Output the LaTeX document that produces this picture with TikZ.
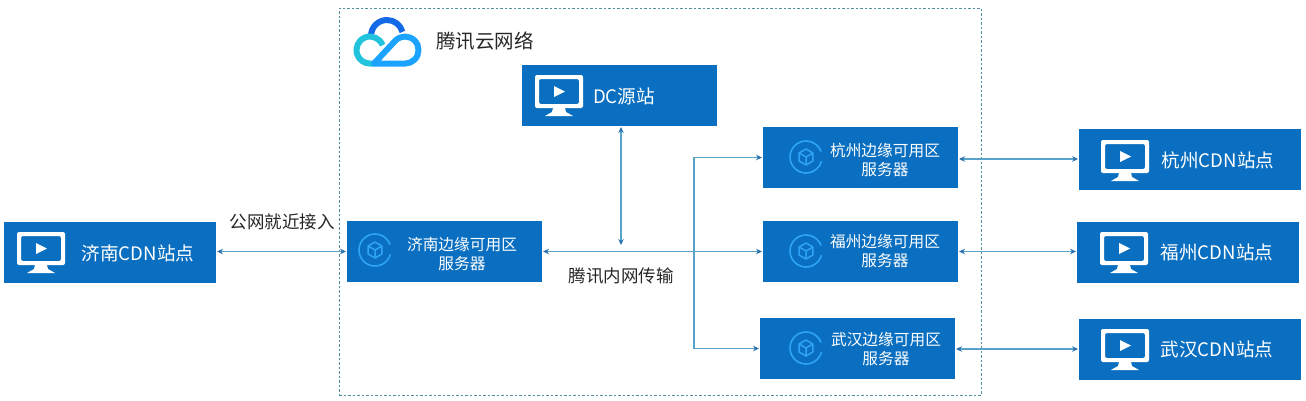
\documentclass[tikz,border=0pt]{standalone}
\usepackage{xcolor}
\usepackage{fontspec}
\setmainfont{Noto Sans CJK SC}
\usetikzlibrary{arrows.meta}
\definecolor{boxblue}{HTML}{0A6FC0}
\definecolor{linkblue}{HTML}{5AA3C8}
\definecolor{tipblue}{HTML}{2A72AE}
\definecolor{framegreen}{HTML}{4F8F9E}
\definecolor{iconblue}{HTML}{2FA4F6}
\definecolor{clouddeep}{HTML}{1469E6}
\definecolor{cloudcyan}{HTML}{22C3DC}
\definecolor{cloudsky}{HTML}{1BA3FF}
\tikzset{
    sitebox/.style={rectangle, fill=boxblue, inner sep=0pt, outer sep=1pt, minimum height=61pt},
    boxtext/.style={text=white, align=center, font=\fontsize{15.7}{19.5}\selectfont},
    sitetext/.style={text=white, font=\fontsize{18.6}{20}\selectfont},
    plaintext/.style={text=black!85, font=\fontsize{17.5}{20}\selectfont},
    link/.style={linkblue, line width=1.3pt, {Stealth[length=6pt,width=5.5pt,color=tipblue]}-{Stealth[length=6pt,width=5.5pt,color=tipblue]}},
    tolink/.style={linkblue, line width=1.3pt, -{Stealth[length=6pt,width=5.5pt,color=tipblue]}},
    monitor/.pic={
        \fill[white, rounded corners=2pt, even odd rule] (-24,-20) rectangle (24,13) (-20,-16) rectangle (20,9);
        \fill[white] (-5,-9) -- (6,-3.5) -- (-5,2) -- cycle;
        \fill[white] (-6,13) -- (6,13) -- (7,17) -- (14,21) -- (-14,21) -- (-7,17) -- cycle;
    },
    edgeicon/.pic={
        \draw[iconblue, line width=1.6pt] (15:16) arc[start angle=15, end angle=340, radius=16];
        \draw[iconblue, line width=1.5pt, line join=round] (-90:8) -- (-30:8) -- (30:8) -- (90:8) -- (150:8) -- (-150:8) -- cycle;
        \draw[iconblue, line width=1.5pt] (-150:8) -- (0,0) -- (-30:8) (0,0) -- (0,8);
    },
}
\begin{document}
\begin{tikzpicture}[x=1pt, y=-1pt]
    \useasboundingbox (0,0) rectangle (1306,400);
    \node(cloudframe) [rectangle, draw=framegreen, line width=.7pt, dash pattern=on 2.5pt off 2pt, minimum width=642pt, minimum height=387pt] at (660,201.5) {};

    \draw[clouddeep, line width=6pt] (371,36) arc[start angle=-180, end angle=-15, radius=16];
    \draw[cloudcyan, line width=6pt] (382.6,45.2) arc[start angle=-21, end angle=-270, radius=13.5] -- (374,63.5);
    \draw[cloudsky, line width=6pt, line join=round] (374,63.5) -- (395.5,40.5) arc[start angle=-135, end angle=90, radius=13.5] -- cycle;

    \node(cloudtitle) [plaintext, font=\fontsize{19.5}{20}\selectfont] at (485,41) {腾讯云网络};

    \node(dcsite) [sitebox, minimum width=195pt] at (619.5,95.5) {};
    \pic at (559,95) {monitor};
    \node(dctext) [sitetext] at (624,96) {DC源站};

    \node(jinancdn) [sitebox, minimum width=212pt] at (110,252.5) {};
    \pic at (41,252) {monitor};
    \node(jinancdntext) [sitetext] at (138,253) {济南CDN站点};

    \node(hangzhoucdn) [sitebox, minimum width=222pt] at (1190,159) {};
    \pic at (1125,160) {monitor};
    \node(hangzhoucdntext) [sitetext] at (1218,160) {杭州CDN站点};

    \node(fuzhoucdn) [sitebox, minimum width=222pt] at (1188,252) {};
    \pic at (1124,252) {monitor};
    \node(fuzhoucdntext) [sitetext] at (1217,252) {福州CDN站点};

    \node(wuhancdn) [sitebox, minimum width=222pt] at (1190,349) {};
    \pic at (1125,349) {monitor};
    \node(wuhancdntext) [sitetext] at (1217,349) {武汉CDN站点};

    \node(jinanedge) [sitebox, minimum width=195pt] at (444.5,251.5) {};
    \pic at (375,250) {edgeicon};
    \node(jinanedgetext) [boxtext] at (462,254) {济南边缘可用区\\服务器};

    \node(hangzhouedge) [sitebox, minimum width=195pt] at (860.5,157.5) {};
    \pic at (806,157) {edgeicon};
    \node(hangzhouedgetext) [boxtext] at (885,160) {杭州边缘可用区\\服务器};

    \node(fuzhouedge) [sitebox, minimum width=195pt] at (860.5,251.5) {};
    \pic at (806,251) {edgeicon};
    \node(fuzhouedgetext) [boxtext] at (885,251) {福州边缘可用区\\服务器};

    \node(wuhanedge) [sitebox, minimum width=195pt] at (857.5,348.5) {};
    \pic at (806,348) {edgeicon};
    \node(wuhanedgetext) [boxtext] at (886,349) {武汉边缘可用区\\服务器};

    \coordinate (relay) at (621,245);
    \coordinate (branch) at (694,251.5);

    \draw[link] (jinancdn.east |- jinanedge.west) -- (jinanedge.west);
    \draw[link] (jinanedge.east) -- (fuzhouedge.west);
    \draw[link] (dcsite.south -| relay) -- (relay);
    \draw[tolink] (branch) |- (hangzhouedge.west);
    \draw[tolink] (branch) |- (wuhanedge.west);
    \draw[link] (hangzhouedge.east |- hangzhoucdn.west) -- (hangzhoucdn.west);
    \draw[link] (fuzhouedge.east) -- (fuzhoucdn.west |- fuzhouedge.east);
    \draw[link] (wuhanedge.east |- wuhancdn.west) -- (wuhancdn.west);

    \node(publiclabel) [plaintext] at (282,222) {公网就近接入};
    \node(privatelabel) [plaintext] at (621,276) {腾讯内网传输};
\end{tikzpicture}
\end{document}
